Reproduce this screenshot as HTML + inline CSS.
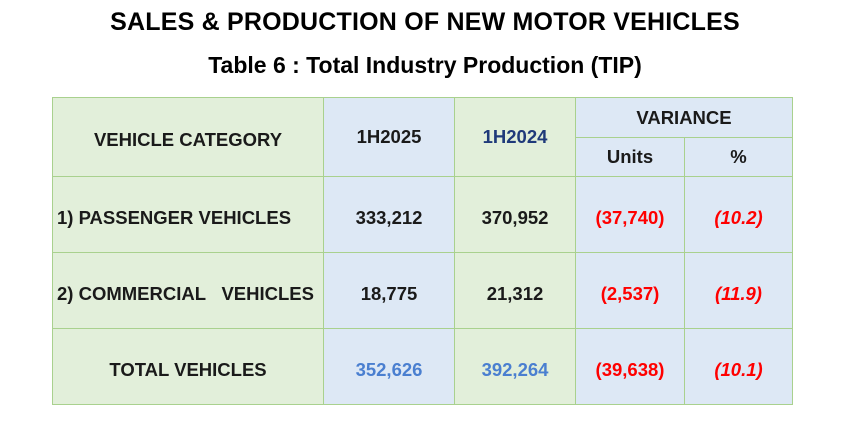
<!DOCTYPE html>
<html><head><meta charset="utf-8"><style>
body{margin:0;width:850px;height:436px;background:#fff;font-family:"Liberation Sans",Arial,sans-serif;position:relative;overflow:hidden}
.t{position:absolute;left:0;width:850px;text-align:center;font-weight:bold;color:#000}
table{position:absolute;left:52px;top:97px;border-collapse:collapse;font-weight:bold;font-size:18.5px;color:#1a1a1a}
td{border:1px solid #a9d18e;text-align:center;padding:0;padding-top:6px}
.g{background:#e2efda}.b{background:#dde8f5}
.r{color:#ff0000}.i{font-style:italic}.bl{color:#4a7fd0}.nv{color:#1f3a7a}
</style></head><body>
<div class="t" style="top:8px;font-size:25px;letter-spacing:0.2px">SALES &amp; PRODUCTION OF NEW MOTOR VEHICLES</div>
<div class="t" style="top:52px;font-size:23px">Table 6 : Total Industry Production (TIP)</div>
<table>
<tr style="height:40px">
<td class="g" rowspan="2" style="width:270px">VEHICLE CATEGORY</td>
<td class="b" rowspan="2" style="width:130px;padding-bottom:6px">1H2025</td>
<td class="g nv" rowspan="2" style="width:120px;padding-bottom:6px">1H2024</td>
<td class="b" colspan="2" style="padding-top:0">VARIANCE</td></tr>
<tr style="height:39px">
<td class="b" style="width:108px;padding-top:0">Units</td>
<td class="b" style="width:107px;padding-top:0">%</td></tr>
<tr style="height:76px">
<td class="g" style="text-align:left;padding-left:4px">1) PASSENGER VEHICLES</td><td class="b">333,212</td><td class="g">370,952</td><td class="b r">(37,740)</td><td class="b r i">(10.2)</td></tr>
<tr style="height:76px">
<td class="g" style="text-align:left;padding-left:4px">2) COMMERCIAL&nbsp;&nbsp; VEHICLES</td><td class="b">18,775</td><td class="g">21,312</td><td class="b r">(2,537)</td><td class="b r i">(11.9)</td></tr>
<tr style="height:76px">
<td class="g">TOTAL VEHICLES</td><td class="b bl">352,626</td><td class="g bl">392,264</td><td class="b r">(39,638)</td><td class="b r i">(10.1)</td></tr>
</table>
</body></html>
